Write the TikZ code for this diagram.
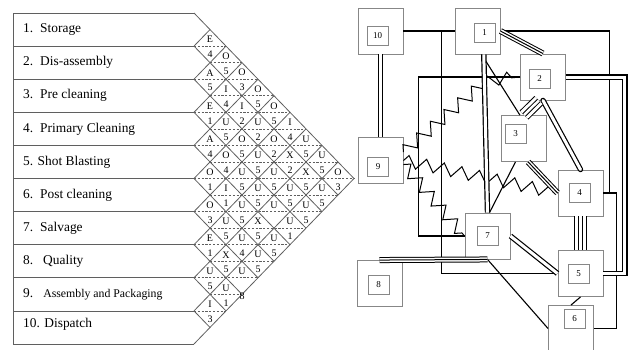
\documentclass[tikz,border=0pt]{standalone}
\usepackage{fontspec}
\setmainfont{Liberation Serif}
\usepackage{tikz}
\usetikzlibrary{decorations.pathmorphing}
\definecolor{chartGray}{RGB}{95,95,95}
\definecolor{boxGray}{RGB}{135,135,135}

\begin{document}
\begin{tikzpicture}[x=1pt, y=-1pt,
  rowtext/.style={anchor=west, inner sep=0pt, font=\fontsize{13.4}{15}\selectfont},
  chartline/.style={draw=chartGray, line width=0.8pt},
  midline/.style={draw=chartGray, line width=0.7pt, dash pattern=on 2.2pt off 1.6pt},
  rating/.style={inner sep=0pt, font=\fontsize{10}{11}\selectfont},
  dept/.style={draw=boxGray, line width=0.9pt, minimum width=45pt, minimum height=46pt, inner sep=0pt},
  deptid/.style={draw=boxGray, line width=0.8pt, minimum width=21pt, minimum height=19pt, inner sep=0pt, font=\fontsize{9}{10}\selectfont},
  oline/.style={line width=1.1pt},
  iline/.style={double, double distance=3pt, line width=1.2pt},
  eline/.style={line width=6pt, postaction={draw=white, line width=4pt}, postaction={draw=black, line width=1pt}},
  aline/.style={line width=12.5pt, postaction={draw=white, line width=10.5pt}, postaction={draw=black, line width=4.5pt}, postaction={draw=white, line width=2.5pt}},
  xline/.style={line width=1pt, decorate, decoration={zigzag, amplitude=6pt, segment length=18pt}}]
  \useasboundingbox (0,0) rectangle (630,349);

  \draw[chartline] (13,13) -- (13,344);
  \foreach \b in {0,...,10}
    \draw[chartline] (13,{13+\b*33.1}) -- (194,{13+\b*33.1});
  \foreach \b in {0,...,9}
    \draw[chartline] (194,{13+\b*33.1}) -- ++({(10-\b)*16},{(10-\b)*16.55});
  \foreach \b in {1,...,10}
    \draw[chartline] (194,{13+\b*33.1}) -- ++({\b*16},{-\b*16.55});
  \foreach \s in {3,...,19}{
    \pgfmathtruncatemacro\dlo{mod(\s,2)==1 ? 0 : 1}
    \pgfmathtruncatemacro\dhi{min(\s-1,21-\s)}
    \draw[midline] ({194+\dlo*16},{13+(\s-1)*16.55}) -- ({194+\dhi*16},{13+(\s-1)*16.55});
  }

  \node[rowtext] (r1) at (23,29.5) {1.\hspace{7pt}Storage};
  \node[rowtext] (r2) at (23,62.6) {2.\hspace{7pt}Dis-assembly};
  \node[rowtext] (r3) at (23,95.7) {3.\hspace{7pt}Pre cleaning};
  \node[rowtext] (r4) at (23,128.8) {4.\hspace{7pt}Primary Cleaning};
  \node[rowtext] (r5) at (23,161.9) {5. Shot Blasting};
  \node[rowtext] (r6) at (23,195) {6.\hspace{7pt}Post cleaning};
  \node[rowtext] (r7) at (23,228.1) {7.\hspace{7pt}Salvage};
  \node[rowtext] (r8) at (23,261.2) {8.\hspace{10pt}Quality};
  \node[rowtext] (r9) at (23,294.3) {9.\hspace{10pt}{\fontsize{11.8}{13}\selectfont Assembly and Packaging}};
  \node[rowtext] (r10) at (23,324) {10. Dispatch};

  \foreach \i/\j/\l/\n in {1/2/E/4, 1/3/O/5, 1/4/O/3, 1/5/O/5, 1/6/O/5, 1/7/I/4, 1/8/U/5, 1/9/U/5, 1/10/O/3,
      2/3/A/5, 2/4/I/4, 2/5/I/2, 2/6/U/2, 2/7/O/2, 2/8/X/2, 2/9/X/5, 2/10/U/5,
      3/4/E/1, 3/5/U/5, 3/6/O/5, 3/7/U/5, 3/8/U/5, 3/9/U/5, 3/10/U/5,
      4/5/A/4, 4/6/O/4, 4/7/U/5, 4/8/U/5, 4/9/U/{}, 4/10/U/1,
      5/6/O/1, 5/7/I/1, 5/8/U/5, 5/9/X/5, 5/10/U/5,
      6/7/O/3, 6/8/U/5, 6/9/U/4, 6/10/U/5,
      7/8/E/1, 7/9/X/5, 7/10/U/{},
      8/9/U/5, 8/10/U/1,
      9/10/I/3}{
    \node[rating] (l\i-\j) at ({194+(\j-\i)*16},{13+(\i+\j-1)*16.55-6.5}) {\l};
    \node[rating] (n\i-\j) at ({194+(\j-\i)*16},{13+(\i+\j-1)*16.55+8.5}) {\n};
  }
  \node[rating] (n7-10b) at (242,296) {8};

  \node[dept] (sto) at (477.5,31) {};
  \node[dept] (dsa) at (543,77) {};
  \node[dept] (pre) at (524,138.5) {};
  \node[dept] (pri) at (580.5,193) {};
  \node[dept] (sho) at (580.5,273.5) {};
  \node[dept] (pos) at (571,328.5) {};
  \node[dept] (sal) at (487.5,236) {};
  \node[dept] (qua) at (379.5,283.5) {};
  \node[dept] (asm) at (380.5,160.5) {};
  \node[dept] (dsp) at (380.5,31) {};

  \draw[oline] (dsp.east) -- (sto.west);
  \draw[oline] (sto.west) -- ++(-13,0) |- (sho.west);
  \draw[oline] (sal.west) -- ++(-46,0) |- (dsa.west);
  \draw[oline] (sto.east) -- ++(109,0) |- (pri.east);
  \draw[oline] (pri.east) -- ++(13,0) |- (pos.east);
  \draw[oline] (sto.-80) -- (pre.100);
  \draw[oline] (pre.-110) -- (sal.85);
  \draw[oline] (sal.south) -- (pos.west);
  \draw[oline] (sho.south) -- (pos.north);
  \draw[xline] (asm.20) -- ++(84,-72) -- (dsa.west);
  \draw[xline] (asm.east) -- (pri.west);
  \draw[xline] (asm.-10) -- (sal.west);
  \draw[iline] (dsp.south) -- (asm.north);
  \draw[iline] (sto.-75) -- (sal.north);
  \draw[iline, line cap=round] (dsa.south) -- (pri.north);
  \draw[iline] (dsa.east) -- ++(59,0) |- (sho.east);
  \draw[iline] (sal.east) -- (sho.west);
  \draw[eline] (sto.east) -- (dsa.north);
  \draw[eline] (pre.-80) -- (pri.west);
  \draw[eline] (qua.north) -- (sal.south);
  \draw[aline] (dsa.-100) -- (pre.north);
  \draw[aline] (pri.south) -- (sho.north);

  \node[deptid] (sto-id) at (484.5,32.5) {1};
  \node[deptid] (dsa-id) at (539.5,78.5) {2};
  \node[deptid] (pre-id) at (515.5,134) {3};
  \node[deptid] (pri-id) at (579.5,192.5) {4};
  \node[deptid] (sho-id) at (578.5,274) {5};
  \node[deptid] (pos-id) at (574.5,319) {6};
  \node[deptid] (sal-id) at (487.5,236) {7};
  \node[deptid] (qua-id) at (378.5,284.5) {8};
  \node[deptid] (asm-id) at (378,167) {9};
  \node[deptid] (dsp-id) at (377.5,36) {10};
\end{tikzpicture}
\end{document}
